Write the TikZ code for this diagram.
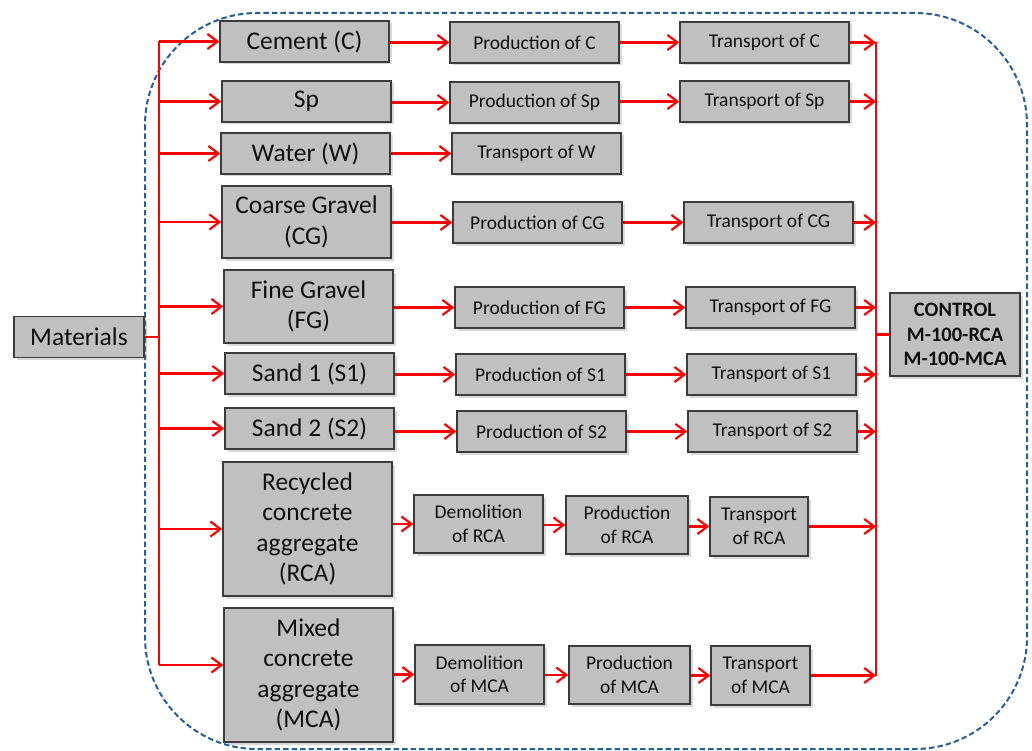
\documentclass[tikz,border=0pt]{standalone}
\usepackage{fontspec}
\setmainfont{Carlito}
\usetikzlibrary{arrows.meta,shadows}
\definecolor{boxfill}{RGB}{192,192,192}
\definecolor{boxline}{RGB}{60,60,60}
\definecolor{dashblue}{RGB}{36,96,150}
\definecolor{flowred}{RGB}{255,0,0}
\definecolor{txt}{RGB}{15,15,15}
\begin{document}
\begin{tikzpicture}[x=1pt,y=-1pt,
  box/.style={draw=boxline, line width=1.5pt, fill=boxfill, inner sep=0pt,
    align=center, text=txt,
    drop shadow={shadow xshift=2.5pt, shadow yshift=-2.5pt, opacity=0.3}},
  bigtxt/.style={font=\fontsize{25.5pt}{30.5pt}\selectfont},
  smalltxt/.style={font=\fontsize{19.5pt}{23.5pt}\selectfont},
  ctrltxt/.style={font=\fontsize{20.5pt}{24.5pt}\selectfont\bfseries},
  flow/.style={draw=flowred, line width=2.2pt},
  arr/.style={flow, -{Straight Barb[length=10pt,width=15pt,line width=2.2pt]}},
  frame/.style={draw=dashblue, line width=2pt, dash pattern=on 5.5pt off 3pt}
]
\useasboundingbox (0,0) rectangle (1032,751);
\draw[frame, rounded corners=112pt] (145,13) rectangle (1027,749);

% first column
\node[box,bigtxt,minimum width=130pt,minimum height=41pt] (mat) at (79,337) {Materials};
\node[box,bigtxt,minimum width=169pt,minimum height=41pt] (cem) at (304.5,41.5) {Cement (C)};
\node[box,bigtxt,minimum width=169pt,minimum height=41pt] (sp) at (306.5,101.5) {Sp};
\node[box,bigtxt,minimum width=169pt,minimum height=41pt] (wat) at (305.5,153.5) {Water (W)};
\node[box,bigtxt,minimum width=169pt,minimum height=72pt] (cg) at (306.5,222) {Coarse Gravel\\(CG)};
\node[box,bigtxt,minimum width=169pt,minimum height=73pt] (fg) at (308.5,306.5) {Fine Gravel\\(FG)};
\node[box,bigtxt,minimum width=169pt,minimum height=41pt] (s1) at (309.5,373.5) {Sand 1 (S1)};
\node[box,bigtxt,minimum width=169pt,minimum height=41pt] (s2) at (309.5,428.5) {Sand 2 (S2)};
\node[box,bigtxt,minimum width=169pt,minimum height=134pt] (rca) at (307.5,529) {Recycled\\concrete\\aggregate\\(RCA)};
\node[box,bigtxt,minimum width=169pt,minimum height=134pt] (mca) at (308.5,675) {Mixed\\concrete\\aggregate\\(MCA)};

% production column
\node[box,smalltxt,minimum width=169pt,minimum height=41pt] (pc) at (534.5,42.5) {Production of C};
\node[box,smalltxt,minimum width=169pt,minimum height=41pt] (psp) at (534.5,102.5) {Production of Sp};
\node[box,smalltxt,minimum width=169pt,minimum height=41pt] (tw) at (536.5,153.5) {Transport of W};
\node[box,smalltxt,minimum width=169pt,minimum height=41pt] (pcg) at (537.5,222.5) {Production of CG};
\node[box,smalltxt,minimum width=169pt,minimum height=41pt] (pfg) at (539.5,307.5) {Production of FG};
\node[box,smalltxt,minimum width=169pt,minimum height=41pt] (ps1) at (540.5,374.5) {Production of S1};
\node[box,smalltxt,minimum width=169pt,minimum height=41pt] (ps2) at (541.5,431.5) {Production of S2};

% transport column
\node[box,smalltxt,minimum width=169pt,minimum height=41pt] (tc) at (764.5,42.5) {Transport of C};
\node[box,smalltxt,minimum width=169pt,minimum height=41pt] (tsp) at (764.5,101.5) {Transport of Sp};
\node[box,smalltxt,minimum width=169pt,minimum height=41pt] (tcg) at (768.5,222.5) {Transport of CG};
\node[box,smalltxt,minimum width=169pt,minimum height=41pt] (tfg) at (770.5,307.5) {Transport of FG};
\node[box,smalltxt,minimum width=169pt,minimum height=41pt] (ts1) at (771.5,374.5) {Transport of S1};
\node[box,smalltxt,minimum width=169pt,minimum height=41pt] (ts2) at (772.5,431.5) {Transport of S2};

% RCA / MCA rows
\node[box,smalltxt,minimum width=129pt,minimum height=58pt] (drca) at (478.5,524) {Demolition\\of RCA};
\node[box,smalltxt,minimum width=122pt,minimum height=58pt] (prca) at (627,525) {Production\\of RCA};
\node[box,smalltxt,minimum width=98pt,minimum height=59pt] (trca) at (759,526.5) {Transport\\of RCA};
\node[box,smalltxt,minimum width=129pt,minimum height=59pt] (dmca) at (479.5,674.5) {Demolition\\of MCA};
\node[box,smalltxt,minimum width=121pt,minimum height=58pt] (pmca) at (629.5,675) {Production\\of MCA};
\node[box,smalltxt,minimum width=99pt,minimum height=59pt] (tmca) at (760.5,675.5) {Transport\\of MCA};

% control
\node[box,ctrltxt,minimum width=130pt,minimum height=83pt] (ctrl) at (955,334.5) {CONTROL\\M-100-RCA\\M-100-MCA};

% bus coordinates
\coordinate (lb) at (159,0);
\coordinate (rb) at (876,0);
\coordinate (mcain) at ([yshift=10pt]mca.west);

% left bus
\draw[flow] (mat.east) -- (lb |- mat.east);
\draw[flow] (lb |- cem.west) -- (lb |- mcain);
\foreach \n in {cem,sp,wat,cg,fg,s1,s2,rca}
  \draw[arr] (lb |- \n.west) -- (\n.west);
\draw[arr] (lb |- mcain) -- (mcain);

% rows
\draw[arr] (cem.east |- pc.west) -- (pc.west);
\draw[arr] (pc.east) -- (tc.west);
\draw[arr] (sp.east |- psp.west) -- (psp.west);
\draw[arr] (psp.east |- tsp.west) -- (tsp.west);
\draw[arr] (wat.east) -- (tw.west);
\draw[arr] (cg.east |- pcg.west) -- (pcg.west);
\draw[arr] (pcg.east) -- (tcg.west);
\draw[arr] (fg.east |- pfg.west) -- (pfg.west);
\draw[arr] (pfg.east) -- (tfg.west);
\draw[arr] (s1.east |- ps1.west) -- (ps1.west);
\draw[arr] (ps1.east) -- (ts1.west);
\draw[arr] (s2.east |- ps2.west) -- (ps2.west);
\draw[arr] (ps2.east) -- (ts2.west);
\draw[arr] (rca.east |- drca.west) -- (drca.west);
\draw[arr] (drca.east |- prca.west) -- (prca.west);
\draw[arr] (prca.east |- trca.west) -- (trca.west);
\draw[arr] (mca.east |- dmca.west) -- (dmca.west);
\draw[arr] (dmca.east |- pmca.west) -- (pmca.west);
\draw[arr] (pmca.east |- tmca.west) -- (tmca.west);

% right bus
\draw[flow] (rb |- tc.east) -- (rb |- tmca.east);
\foreach \n in {tc,tsp,tcg,tfg,ts1,ts2,trca,tmca}
  \draw[arr] (\n.east) -- (rb |- \n.east);
\draw[flow] (rb |- ctrl.west) -- (ctrl.west);
\end{tikzpicture}
\end{document}
